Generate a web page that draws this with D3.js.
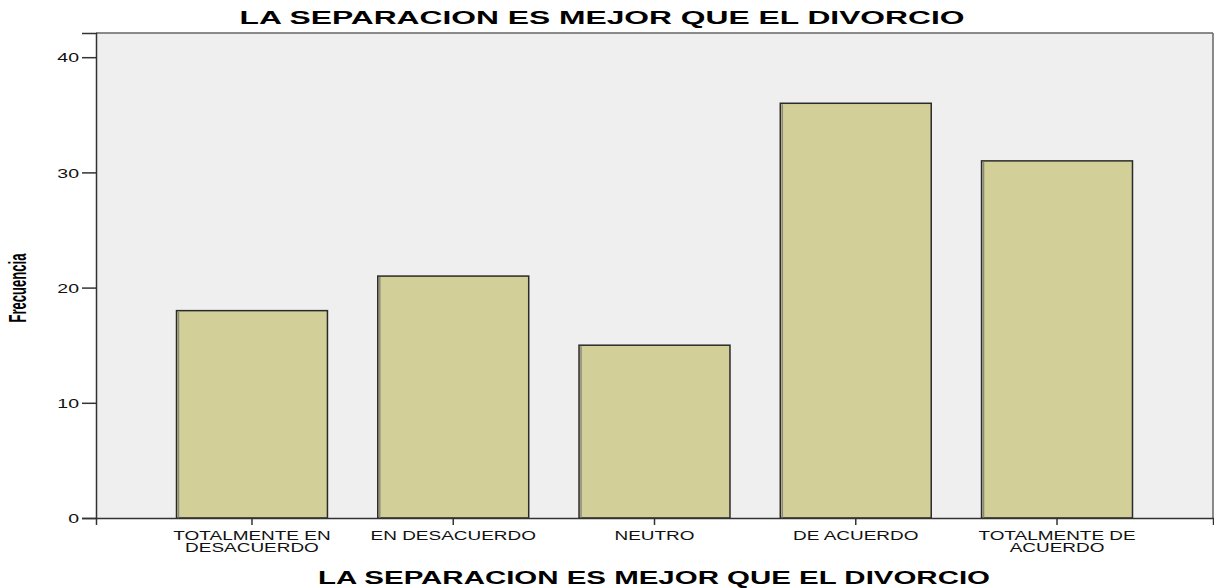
<!DOCTYPE html>
<html>
<head>
<meta charset="utf-8">
<script src="https://cdn.jsdelivr.net/npm/d3@7"></script>
<style>
  body { margin: 0; background: #fff; }
  text { font-family: "Liberation Sans", Arial, sans-serif; }
</style>
</head>
<body>
<div id="chart"></div>
<script>
// valeurs
const categories = [
  ["TOTALMENTE EN", "DESACUERDO"],
  ["EN DESACUERDO"],
  ["NEUTRO"],
  ["DE ACUERDO"],
  ["TOTALMENTE DE", "ACUERDO"]
];
const frecuencias = [18, 21, 15, 36, 31];
const yTicks = [0, 10, 20, 30, 40];
const titulo = "LA SEPARACION ES MEJOR QUE EL DIVORCIO";

const width = 1214, height = 588;
const margin = { top: 33, right: 1, bottom: 70, left: 96 };
const plotW = width - margin.left - margin.right,
    plotH = height - margin.top - margin.bottom;

// le texte de l'original est etire horizontalement
const stretch = 1.5;

const svg = d3.select("#chart")
    .append("svg")
    .attr("width", width)
    .attr("height", height);

const x = d3.scaleBand()
    .domain(d3.range(categories.length))
    .range([0, plotW])
    .paddingInner(0.25)
    .paddingOuter(0.4);

const y = d3.scaleLinear()
    .domain([0, 42.1])
    .range([plotH, 0]);

const g = svg.append("g")
    .attr("transform", `translate(${margin.left}, ${margin.top})`);

// fond gris
g.append("rect")
    .attr("width", plotW)
    .attr("height", plotH)
    .attr("fill", "#efefef");

// barres
g.selectAll("rect.bar")
    .data(frecuencias)
    .join("rect")
    .attr("class", "bar")
    .attr("x", (d, i) => x(i))
    .attr("y", d => y(d))
    .attr("width", x.bandwidth())
    .attr("height", d => plotH - y(d))
    .attr("fill", "#d3cf98")
    .attr("stroke", "#2a2a2a")
    .attr("stroke-width", 1.5);

// ombre du bord gauche des barres
g.selectAll("line.shade")
    .data(frecuencias)
    .join("line")
    .attr("class", "shade")
    .attr("x1", (d, i) => x(i) + 2)
    .attr("x2", (d, i) => x(i) + 2)
    .attr("y1", d => y(d) + 1)
    .attr("y2", plotH)
    .attr("stroke", "#8a8a7a")
    .attr("stroke-width", 1.5);

// cadre (haut et droite)
g.append("line").attr("x1", 0).attr("x2", plotW).attr("y1", 0).attr("y2", 0)
    .attr("stroke", "#666").attr("stroke-width", 1.5);
g.append("line").attr("x1", plotW).attr("x2", plotW).attr("y1", 0).attr("y2", plotH)
    .attr("stroke", "#666").attr("stroke-width", 1.5);

// axe y
const yAxis = g.append("g")
    .call(d3.axisLeft(y).tickValues(yTicks).tickSize(14));
yAxis.select(".domain").attr("stroke", "#333").attr("stroke-width", 1.5);
yAxis.selectAll(".tick line").attr("stroke", "#333").attr("stroke-width", 1.5);
yAxis.selectAll("text")
    .attr("x", 0)
    .attr("dy", "0.36em")
    .attr("transform", `translate(-17, 0) scale(${stretch}, 1)`)
    .attr("font-size", 13)
    .attr("fill", "#111")
    .style("font-family", "'Liberation Sans', Arial, sans-serif");

// axe x
const xAxis = g.append("g")
    .attr("transform", `translate(0, ${plotH})`)
    .call(d3.axisBottom(x).tickSize(7).tickFormat(""));
xAxis.select(".domain").attr("stroke", "#333").attr("stroke-width", 1.5);
xAxis.selectAll(".tick line").attr("stroke", "#333").attr("stroke-width", 1.5);

xAxis.selectAll(".tick")
    .append("text")
    .attr("fill", "#111")
    .attr("font-size", 12)
    .attr("text-anchor", "middle")
    .attr("transform", `scale(${stretch + 0.08}, 1)`)
    .selectAll("tspan")
    .data(i => categories[i])
    .join("tspan")
    .attr("x", 0)
    .attr("y", (d, j) => 22 + j * 12)
    .text(d => d);

// titres
svg.append("text")
    .attr("x", 602)
    .attr("y", 24)
    .attr("text-anchor", "middle")
    .attr("font-size", 19)
    .attr("font-weight", "bold")
    .attr("textLength", 725)
    .attr("lengthAdjust", "spacingAndGlyphs")
    .text(titulo);

svg.append("text")
    .attr("x", 654)
    .attr("y", 584)
    .attr("text-anchor", "middle")
    .attr("font-size", 19)
    .attr("font-weight", "bold")
    .attr("textLength", 672)
    .attr("lengthAdjust", "spacingAndGlyphs")
    .text(titulo);

svg.append("text")
    .attr("transform", `translate(26, 288) rotate(-90)`)
    .attr("text-anchor", "middle")
    .attr("font-size", 23)
    .attr("font-weight", "bold")
    .attr("textLength", 69)
    .attr("lengthAdjust", "spacingAndGlyphs")
    .text("Frecuencia");
</script>
</body>
</html>
